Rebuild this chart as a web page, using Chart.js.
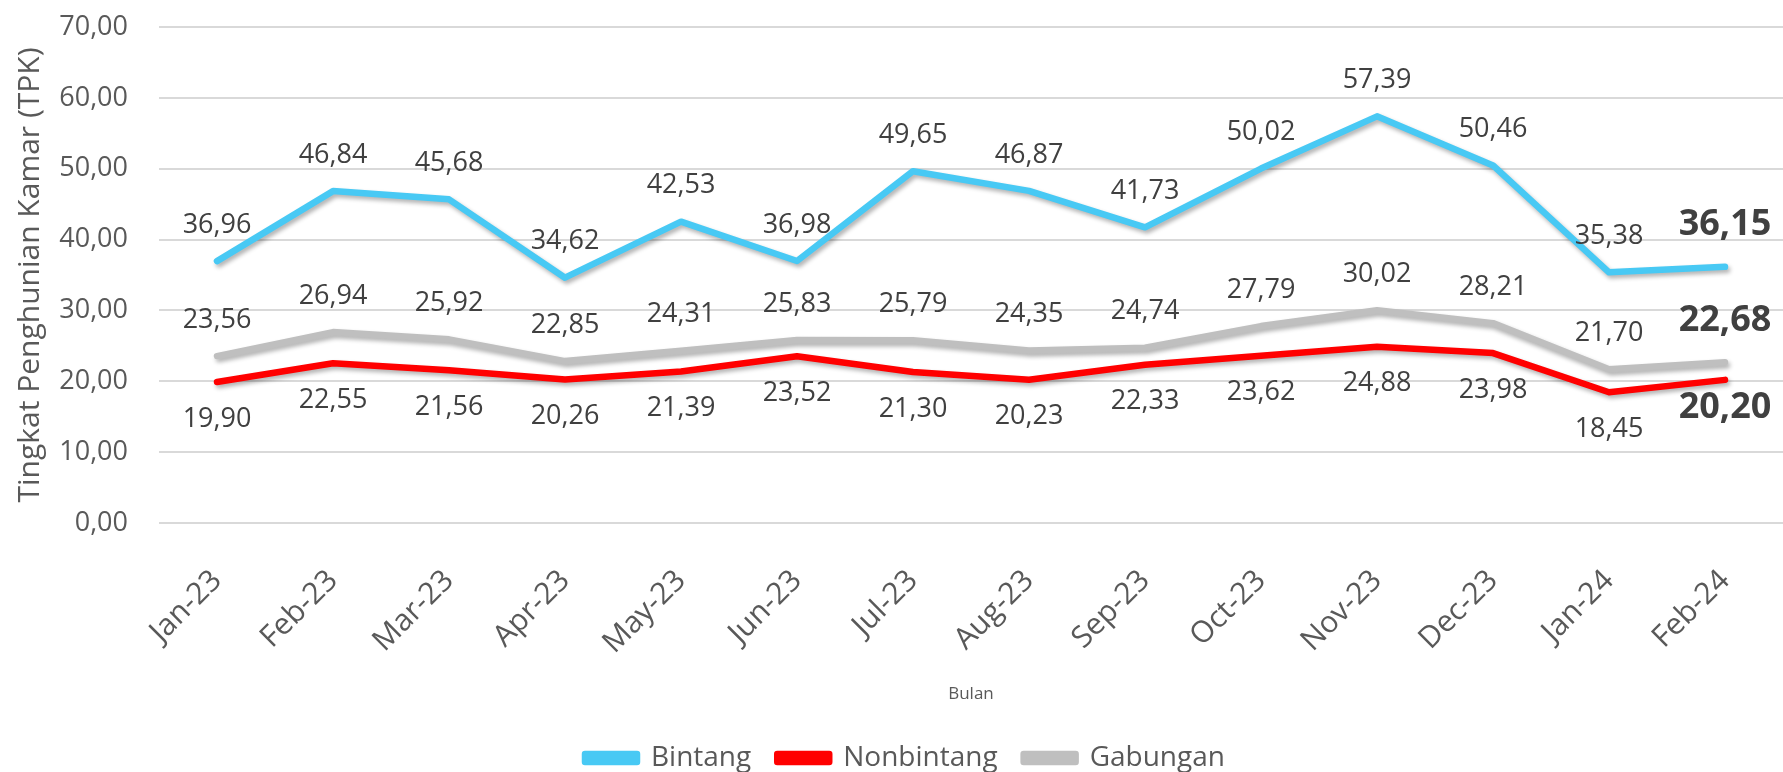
<!DOCTYPE html>
<html>
<head>
  <title>TPK</title>
  <script src="https://cdn.jsdelivr.net/npm/chart.js"></script>
  <style>
    body { margin: 0; background: #fff; }
  </style>
</head>
<body>
  <canvas id="lineChart" width="1783" height="772"></canvas>

  <script>
    // data
    const months = ['Jan-23', 'Feb-23', 'Mar-23', 'Apr-23', 'May-23', 'Jun-23', 'Jul-23',
                    'Aug-23', 'Sep-23', 'Oct-23', 'Nov-23', 'Dec-23', 'Jan-24', 'Feb-24'];
    const bintang = [36.96, 46.84, 45.68, 34.62, 42.53, 36.98, 49.65, 46.87, 41.73, 50.02, 57.39, 50.46, 35.38, 36.15];
    const nonbintang = [19.90, 22.55, 21.56, 20.26, 21.39, 23.52, 21.30, 20.23, 22.33, 23.62, 24.88, 23.98, 18.45, 20.20];
    const gabungan = [23.56, 26.94, 25.92, 22.85, 24.31, 25.83, 25.79, 24.35, 24.74, 27.79, 30.02, 28.21, 21.70, 22.68];
    const yTicks = [0, 10, 20, 30, 40, 50, 60, 70];

    const fmt = v => v.toFixed(2).replace('.', ',');

    // sombra ligera como en Excel
    const shadowPlugin = {
      id: 'shadow',
      beforeDatasetDraw(chart) {
        const ctx = chart.ctx;
        ctx.save();
        ctx.shadowColor = 'rgba(0,0,0,0.3)';
        ctx.shadowBlur = 4;
        ctx.shadowOffsetX = 2;
        ctx.shadowOffsetY = 3;
      },
      afterDatasetDraw(chart) {
        chart.ctx.restore();
      }
    };

    // etiquetas de valores
    const labelPlugin = {
      id: 'valueLabels',
      afterDatasetsDraw(chart) {
        const ctx = chart.ctx;
        ctx.save();
        ctx.fillStyle = '#404040';
        ctx.textAlign = 'center';
        ctx.textBaseline = 'middle';
        chart.data.datasets.forEach((ds, di) => {
          const meta = chart.getDatasetMeta(di);
          meta.data.forEach((pt, i) => {
            const last = i === ds.data.length - 1;
            let dy;
            if (ds.labelPos === 'below') dy = last ? 28 : 37;
            else dy = last ? -42 : -36;
            ctx.font = last ? 'bold 36px "Open Sans"' : '27px "Open Sans"';
            ctx.fillText(fmt(ds.data[i]), pt.x, pt.y + dy);
          });
        });
        ctx.restore();
      }
    };

    // mover la leyenda a la izquierda como en el original
    const legendPos = {
      id: 'legendPos',
      afterLayout(chart) {
        const lg = chart.legend;
        const h = lg.height;
        lg.left = 559;
        lg.right = lg.left + 800;
        lg.top = 718;
        lg.bottom = lg.top + h;
      }
    };

    const lineStyle = {
      borderWidth: 6.5,
      pointRadius: 0,
      borderCapStyle: 'round',
      borderJoinStyle: 'round',
      tension: 0
    };

    new Chart(document.getElementById('lineChart'), {
      type: 'line',
      data: {
        labels: months,
        datasets: [
          { label: 'Bintang', data: bintang, borderColor: '#48C9F4', backgroundColor: '#48C9F4', labelPos: 'above', ...lineStyle },
          { label: 'Nonbintang', data: nonbintang, borderColor: '#FF0000', backgroundColor: '#FF0000', labelPos: 'below', ...lineStyle },
          { label: 'Gabungan', data: gabungan, borderColor: '#BFBFBF', backgroundColor: '#BFBFBF', labelPos: 'above', ...lineStyle }
        ]
      },
      options: {
        responsive: false,
        devicePixelRatio: 1,
        animation: false,
        layout: { padding: 0 },
        plugins: {
          tooltip: { enabled: false },
          legend: {
            position: 'bottom',
            align: 'start',
            labels: {
              boxWidth: 52,
              boxHeight: 8,
              padding: 26,
              color: '#595959',
              font: { family: '"Open Sans"', size: 28 }
            }
          }
        },
        scales: {
          x: {
            offset: true,
            grid: { display: false },
            border: { display: false },
            ticks: {
              autoSkip: false,
              minRotation: 45,
              maxRotation: 45,
              padding: 32,
              labelOffset: 0,
              color: '#595959',
              font: { family: '"Open Sans"', size: 30 }
            },
            title: {
              display: true,
              text: 'Bulan',
              color: '#595959',
              font: { family: '"Open Sans"', size: 17 },
              padding: { top: 0, bottom: 4 }
            },
            afterFit(scale) {
              const lh = scale.chart.legend ? scale.chart.legend.height : 60;
              scale.height = 772 - 523 - lh;
            }
          },
          y: {
            min: 0,
            max: 70,
            afterBuildTicks(scale) { scale.ticks = yTicks.map(v => ({ value: v })); },
            grid: { color: '#D9D9D9', lineWidth: 2, drawTicks: false },
            border: { display: false },
            ticks: {
              padding: 31,
              color: '#595959',
              font: { family: '"Open Sans"', size: 27 },
              callback: v => fmt(v)
            },
            title: {
              display: true,
              text: 'Tingkat Penghunian Kamar (TPK)',
              color: '#595959',
              font: { family: '"Open Sans"', size: 30 },
              padding: { top: 12, bottom: 0 }
            },
            afterFit(scale) {
              scale.width = 159;
              scale.paddingTop = 27;
              scale.paddingBottom = 0;
            }
          }
        }
      },
      plugins: [shadowPlugin, labelPlugin, legendPos]
    });
  </script>
</body>
</html>
